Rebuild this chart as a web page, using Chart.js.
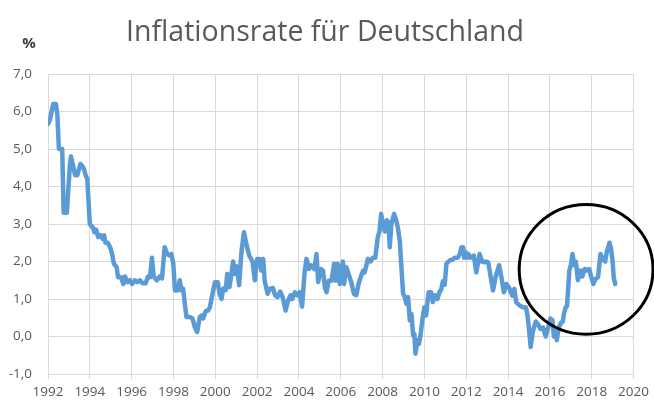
<!DOCTYPE html>
<html>
<head>
<meta charset="utf-8">
<script src="https://cdn.jsdelivr.net/npm/chart.js@4/dist/chart.umd.min.js"></script>
<style>
  html, body { margin: 0; padding: 0; background: #fff; }
  #wrap { width: 654px; height: 403px; }
</style>
</head>
<body>
<div id="wrap"><canvas id="chart" width="654" height="403"></canvas></div>
<script>
// Inflationsrate Deutschland, Werte (Jahr als Dezimalzahl)
const years = [
  1992.00, 1992.10, 1992.25, 1992.38, 1992.45, 1992.52, 1992.68, 1992.75, 1992.90, 1993.05,
  1993.10, 1993.30, 1993.40, 1993.55, 1993.70, 1993.80, 1993.88, 1994.00, 1994.15, 1994.22,
  1994.30, 1994.40, 1994.50, 1994.62, 1994.68, 1994.75, 1994.86, 1995.00, 1995.08, 1995.15,
  1995.28, 1995.35, 1995.50, 1995.60, 1995.68, 1995.80, 1995.92, 1996.02, 1996.15, 1996.28,
  1996.40, 1996.52, 1996.67, 1996.78, 1996.88, 1996.97, 1997.05, 1997.20, 1997.35, 1997.45,
  1997.58, 1997.70, 1997.82, 1997.90, 1997.99, 1998.07, 1998.20, 1998.30, 1998.38, 1998.46,
  1998.62, 1998.78, 1998.91, 1999.02, 1999.13, 1999.26, 1999.35, 1999.42, 1999.55, 1999.65,
  1999.74, 1999.98, 2000.12, 2000.20, 2000.30, 2000.38, 2000.50, 2000.57, 2000.68, 2000.78,
  2000.85, 2000.94, 2001.03, 2001.14, 2001.25, 2001.37, 2001.50, 2001.62, 2001.78, 2001.89,
  2002.00, 2002.12, 2002.20, 2002.29, 2002.36, 2002.50, 2002.60, 2002.75, 2002.86, 2002.97,
  2003.10, 2003.22, 2003.36, 2003.48, 2003.60, 2003.68, 2003.80, 2003.92, 2004.03, 2004.15,
  2004.27, 2004.36, 2004.48, 2004.58, 2004.74, 2004.84, 2004.92, 2005.05, 2005.15, 2005.24,
  2005.32, 2005.42, 2005.56, 2005.68, 2005.75, 2005.85, 2005.95, 2006.06, 2006.10, 2006.16,
  2006.26, 2006.35, 2006.50, 2006.63, 2006.74, 2006.85, 2006.98, 2007.07, 2007.14, 2007.30,
  2007.43, 2007.53, 2007.65, 2007.77, 2007.85, 2007.93, 2007.98, 2008.05, 2008.12, 2008.20,
  2008.28, 2008.34, 2008.42, 2008.55, 2008.65, 2008.74, 2008.82, 2008.90, 2008.98, 2009.06,
  2009.14, 2009.22, 2009.30, 2009.38, 2009.46, 2009.52, 2009.57, 2009.67, 2009.74, 2009.82,
  2009.93, 2010.00, 2010.08, 2010.20, 2010.32, 2010.40, 2010.50, 2010.62, 2010.73, 2010.80,
  2010.88, 2010.97, 2011.05, 2011.15, 2011.28, 2011.35, 2011.45, 2011.58, 2011.68, 2011.77,
  2011.85, 2011.90, 2011.97, 2012.04, 2012.10, 2012.20, 2012.36, 2012.48, 2012.64, 2012.75,
  2012.88, 2012.95, 2013.05, 2013.17, 2013.28, 2013.40, 2013.57, 2013.68, 2013.80, 2013.92,
  2014.05, 2014.20, 2014.30, 2014.39, 2014.55, 2014.70, 2014.85, 2014.92, 2014.99, 2015.08,
  2015.18, 2015.32, 2015.44, 2015.55, 2015.67, 2015.80, 2015.92, 2016.02, 2016.12, 2016.19,
  2016.27, 2016.33, 2016.42, 2016.54, 2016.62, 2016.67, 2016.75, 2016.82, 2016.93, 2017.00,
  2017.08, 2017.17, 2017.24, 2017.34, 2017.45, 2017.55, 2017.66, 2017.77, 2017.88, 2017.97,
  2018.08, 2018.17, 2018.30, 2018.42, 2018.52, 2018.64, 2018.72, 2018.85, 2018.92, 2019.00,
  2019.05, 2019.12
];

const rates = [
  5.67, 5.8, 6.2, 6.2, 5.9, 5.0, 5.0, 3.3, 3.3, 4.6,
  4.8, 4.3, 4.3, 4.6, 4.5, 4.3, 4.2, 3.0, 2.9, 2.78,
  2.85, 2.65, 2.7, 2.6, 2.7, 2.5, 2.5, 2.34, 2.16, 1.94,
  1.85, 1.58, 1.58, 1.4, 1.6, 1.45, 1.5, 1.4, 1.5, 1.45,
  1.5, 1.42, 1.42, 1.6, 1.58, 2.1, 1.6, 1.5, 1.6, 1.55,
  2.38, 2.2, 2.16, 2.2, 1.95, 1.23, 1.23, 1.5, 1.23, 1.27,
  0.52, 0.52, 0.48, 0.25, 0.12, 0.52, 0.56, 0.48, 0.69, 0.69,
  0.78, 1.45, 1.45, 1.14, 1.0, 1.28, 1.24, 1.67, 1.32, 1.7,
  2.0, 1.67, 1.87, 1.37, 2.25, 2.78, 2.43, 2.16, 2.0, 1.5,
  2.07, 2.07, 1.76, 2.07, 1.49, 1.14, 1.27, 1.3, 1.1, 1.05,
  1.2, 1.05, 0.69, 0.96, 1.1, 1.0, 1.18, 1.1, 1.18, 0.8,
  1.71, 2.07, 1.8, 1.9, 1.8, 2.2, 1.45, 1.8, 1.76, 1.3,
  1.18, 1.49, 1.49, 1.94, 1.49, 1.94, 1.4, 1.9, 2.0, 1.4,
  1.85, 1.71, 1.45, 1.14, 1.1, 1.4, 1.63, 1.76, 1.71, 2.07,
  2.0, 2.1, 2.1, 2.65, 2.8, 3.27, 3.1, 2.9, 2.8, 3.1,
  3.05, 2.38, 3.0, 3.27, 3.1, 2.87, 2.55, 1.85, 1.14, 1.05,
  0.87, 1.05, 0.43, 0.6, 0.03, 0.07, -0.46, -0.1, -0.2, 0.07,
  0.56, 0.78, 0.56, 1.18, 1.18, 0.92, 1.1, 1.0, 1.2, 1.25,
  1.47, 1.38, 1.94, 2.0, 2.05, 2.05, 2.1, 2.1, 2.18, 2.38,
  2.38, 2.1, 2.25, 2.1, 2.2, 2.1, 2.16, 1.71, 2.2, 2.0,
  1.98, 2.0, 1.98, 1.58, 1.23, 1.58, 1.9, 1.58, 1.18, 1.4,
  1.3, 1.09, 1.27, 0.91, 0.83, 0.78, 0.78, 0.6, 0.25, -0.28,
  0.13, 0.4, 0.32, 0.2, 0.24, 0.0, 0.25, 0.48, 0.44, 0.0,
  0.13, -0.1, 0.24, 0.37, 0.4, 0.6, 0.77, 0.82, 1.76, 1.9,
  2.2, 1.9, 2.0, 1.5, 1.76, 1.6, 1.8, 1.76, 1.8, 1.6,
  1.4, 1.53, 1.58, 2.2, 2.07, 2.0, 2.25, 2.5, 2.35, 2.0,
  1.58, 1.4
];

const xTicks = [1992, 1994, 1996, 1998, 2000, 2002, 2004, 2006, 2008, 2010, 2012, 2014, 2016, 2018, 2020];
const yTicks = [-1, 0, 1, 2, 3, 4, 5, 6, 7];

const titleText = 'Inflationsrate für Deutschland';
const unitText = '%';

// Markierung (Kreis) in Datenkoordinaten
const markCenter = { x: 2017.73, y: 1.79 };
const markRadius = { x: 3.2, y: 1.73 };

const gridColor = '#d9d9d9';
const textColor = '#595959';

// Titel, Einheit und Kreis selbst zeichnen
const extras = {
  id: 'extras',
  afterDraw(chart) {
    const { ctx, scales } = chart;
    const xs = scales.x, ys = scales.y;

    ctx.save();
    ctx.fillStyle = textColor;
    ctx.font = '28.5px "Open Sans"';
    ctx.textAlign = 'center';
    ctx.textBaseline = 'middle';
    ctx.fillText(titleText, 325, 33);

    ctx.fillStyle = '#404040';
    ctx.font = 'bold 15px "Open Sans"';
    ctx.fillText(unitText, 29, 44);
    ctx.restore();

    const cx = xs.getPixelForValue(markCenter.x);
    const cy = ys.getPixelForValue(markCenter.y);
    const rx = Math.abs(xs.getPixelForValue(markCenter.x + markRadius.x) - cx);
    const ry = Math.abs(ys.getPixelForValue(markCenter.y + markRadius.y) - cy);
    ctx.save();
    ctx.beginPath();
    ctx.ellipse(cx, cy, rx, ry, 0, 0, Math.PI * 2);
    ctx.strokeStyle = '#000';
    ctx.lineWidth = 3;
    ctx.stroke();
    ctx.restore();
  }
};

new Chart(document.getElementById('chart'), {
  type: 'line',
  data: {
    datasets: [{
      label: 'Inflationsrate',
      data: years.map((y, i) => ({ x: y, y: rates[i] })),
      borderColor: '#5b9bd5',
      borderWidth: 4.5,
      borderJoinStyle: 'round',
      borderCapStyle: 'round',
      pointRadius: 0,
      tension: 0,
      fill: false
    }]
  },
  options: {
    responsive: false,
    animation: false,
    layout: { padding: { top: 74, right: 19, bottom: 0, left: 0 } },
    plugins: {
      legend: { display: false },
      tooltip: { enabled: false },
      title: { display: false }
    },
    scales: {
      x: {
        type: 'linear',
        min: 1992,
        max: 2020,
        afterBuildTicks: s => { s.ticks = xTicks.map(v => ({ value: v })); },
        afterFit: s => { s.height = 29; },
        grid: { color: gridColor, tickColor: gridColor, tickLength: 5, lineWidth: 1 },
        border: { color: gridColor },
        ticks: {
          color: textColor,
          padding: 5,
          maxRotation: 0,
          font: { family: 'Open Sans', size: 13.5 },
          callback: v => String(v)
        }
      },
      y: {
        min: -1,
        max: 7,
        afterBuildTicks: s => { s.ticks = yTicks.map(v => ({ value: v })); },
        afterFit: s => { s.width = 48; },
        grid: { color: gridColor, drawTicks: false, lineWidth: 1 },
        border: { color: gridColor },
        ticks: {
          color: textColor,
          padding: 16,
          font: { family: 'Open Sans', size: 13.5 },
          callback: v => v.toFixed(1).replace('.', ',')
        }
      }
    }
  },
  plugins: [extras]
});
</script>
</body>
</html>
